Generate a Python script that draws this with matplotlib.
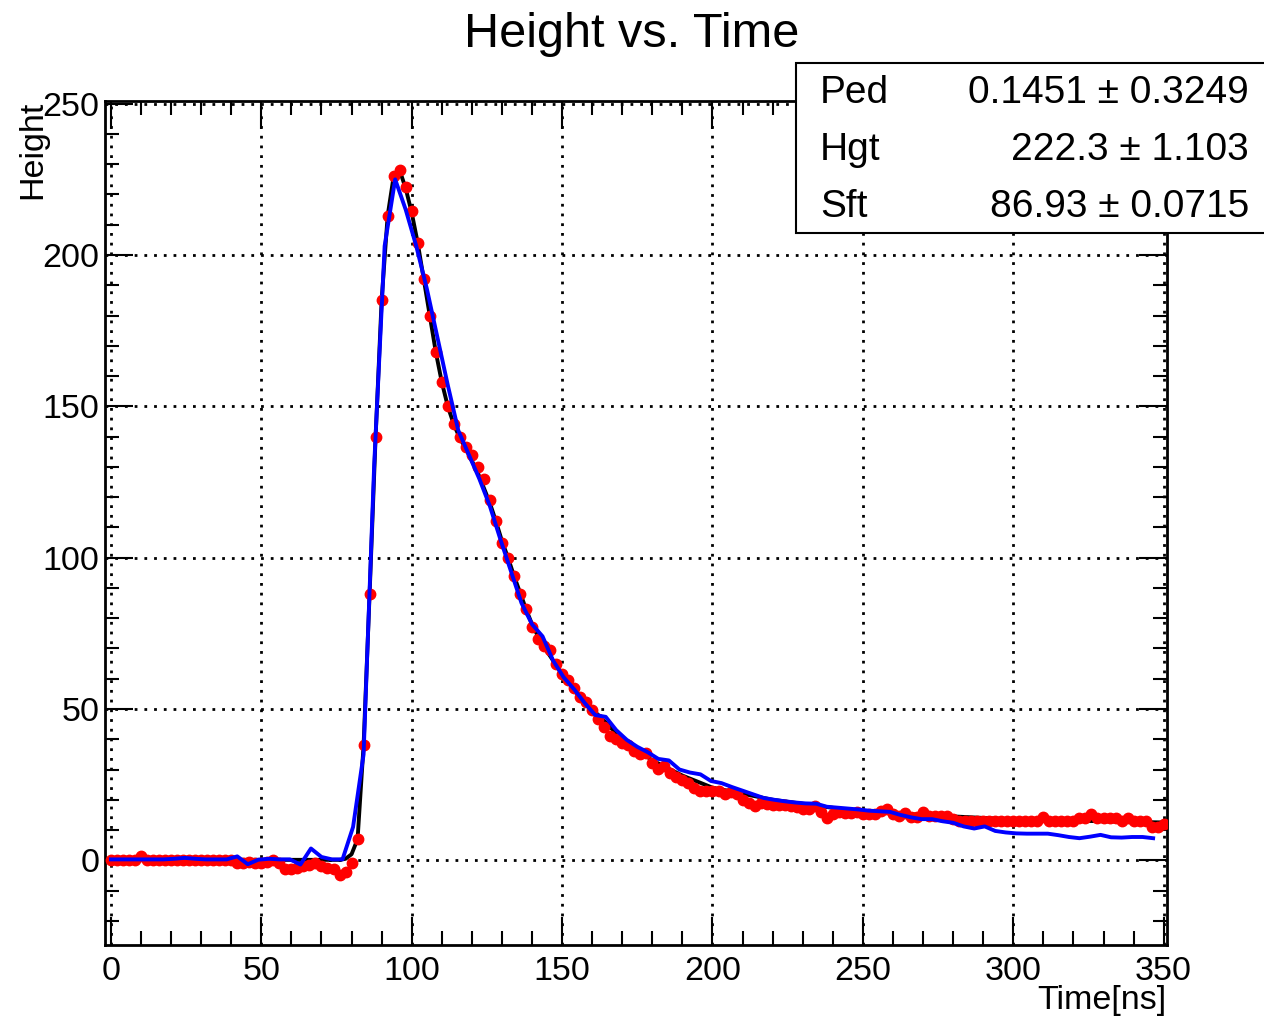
import numpy as np
import matplotlib
matplotlib.use("Agg")
import matplotlib.pyplot as plt
from matplotlib.ticker import MultipleLocator

plt.rcParams['font.family'] = ['Liberation Sans', 'DejaVu Sans']

# measured samples (red), every 2 ns
red_t = np.arange(0, 351, 2)
red_y = [0.2, 0.2, 0.2, 0.2, 0.2, 1.4, 0, 0, 0, 0,
         0, 0, 0, 0, 0, 0, 0, 0, 0, 0,
         0, -1, -0.8, -0.5, -0.8, -1, -0.5, 0, -1, -3,
         -3, -2.5, -2, -1.5, -1, -2, -2.5, -3, -5, -4,
         -1, 7, 38, 88, 140, 185, 213, 226, 228, 222.6,
         214.5, 204, 192, 180, 168, 158, 150, 144, 140, 136.6,
         134, 130, 126, 119, 112, 105, 100, 94, 88, 83,
         77, 73, 70.7, 69.6, 65, 61.7, 59.7, 56.8, 54, 52.3,
         49.8, 46.8, 44.1, 41, 40, 38.8, 38, 36.1, 35, 35.3,
         32, 30.3, 31.1, 28.9, 27.5, 26.4, 25.5, 24, 23, 23,
         23, 23, 21.8, 22.5, 22, 20, 19, 17.8, 19, 18.6,
         18.2, 18.2, 18.2, 18, 17.5, 17.1, 17.1, 17.8, 16, 14.1,
         15.2, 16, 15.5, 15.6, 16, 15.4, 15.4, 15.4, 16.4, 17.1,
         15.4, 14.6, 15.5, 14.4, 14.4, 16, 14.6, 14.8, 14.8, 14.5,
         13.5, 13, 13, 13, 13, 13, 13, 13, 13, 13,
         13, 13, 13, 13, 13, 14.2, 13, 13, 13, 13,
         13, 14, 14, 15.2, 14, 14, 14, 14, 13, 14,
         13, 13, 13, 11, 11, 12]

# reference pulse (blue), every 3.5 ns
blue_t = np.arange(0, 347, 3.5)
blue_y = [0.3, 0.3, 0.3, 0.3, 0.3, 0.3, 0.5, 0.8, 0.5, 0.3,
          0.3, 0.3, 1.3, -1.3, 0.2, 0.5, 0.3, 0.3, -1.4, 3.9,
          1.1, 0.3, 0.3, 11, 35, 130, 203, 225, 215, 203,
          189, 173, 157, 142, 134, 126, 117, 106, 95.5, 85,
          78, 74, 66, 60.5, 56.5, 52, 48, 47.4, 43, 39.8,
          37.5, 35.7, 33.5, 33, 30, 29, 28.4, 26.2, 25.5, 24.2,
          23, 21.8, 20.6, 20, 19.5, 19.1, 18.8, 18.7, 17.7, 17.4,
          17.1, 16.8, 16.4, 16.2, 16, 15, 14.2, 13.6, 13.6, 12.9,
          12.4, 11.2, 10.5, 11.2, 9.7, 9.2, 8.9, 8.8, 8.8, 8.8,
          8.3, 7.7, 7.3, 7.8, 8.4, 7.6, 7.5, 7.7, 7.7, 7.3]

# fit curve (black)
fit_t = [0, 76, 78, 80, 82, 84, 86, 88, 90, 92, 94, 96, 98, 100, 102, 104,
         106, 108, 110, 112, 114, 116, 118, 120, 122, 124, 126, 128, 130,
         132, 134, 136, 138, 140, 142, 144, 146, 148, 150, 155, 160, 165,
         170, 180, 190, 200, 220, 250, 300, 350]
fit_y = [0.15, 0.15, 0.5, 2, 7, 38, 88, 140, 185, 213, 226, 228, 222, 214,
         204, 192, 180, 168, 158, 150, 144, 139.5, 136, 132, 128, 123, 118,
         112, 105.5, 100, 94, 88.5, 83, 78, 74, 70.5, 67.5, 64.5, 61.5, 55,
         50, 45, 40, 33, 28, 24, 20, 16, 13.5, 12.5]

par_names = ["Ped", "Hgt", "Sft"]
par_vals = ["0.1451 \u00b1 0.3249", "222.3 \u00b1 1.103", "86.93 \u00b1 0.0715"]

fig = plt.figure(figsize=(12.64, 10.21), dpi=100)
ax = fig.add_axes([0.083, 0.0744, 0.840, 0.827])

ax.plot(fit_t, fit_y, color='black', lw=2.8, zorder=2)
ax.plot(red_t, red_y, 'o', color='red', ms=7.5, mec='red', zorder=3)
ax.plot(blue_t, blue_y, color='blue', lw=2.8, zorder=4)

ax.set_xlim(-2, 351)
ax.set_ylim(-28, 251)

ax.xaxis.set_major_locator(MultipleLocator(50))
ax.xaxis.set_minor_locator(MultipleLocator(10))
ax.yaxis.set_major_locator(MultipleLocator(50))
ax.yaxis.set_minor_locator(MultipleLocator(10))
ax.tick_params(which='both', direction='in', top=True, right=True,
               width=1.5, labelsize=24.5)
ax.tick_params(which='major', length=20)
ax.tick_params(which='minor', length=10)
ax.tick_params(axis='x', pad=8)
ax.tick_params(axis='y', pad=4)
for s in ax.spines.values():
    s.set_linewidth(2)

ax.grid(True, which='major', color='black', linestyle=(0, (1, 2.5)), lw=2)

ax.set_xlabel("Time[ns]", fontsize=24.5, loc='right')
ax.xaxis.set_label_coords(1.0, -0.047)
ax.set_ylabel("Height", fontsize=24.5, loc='top', labelpad=-4)

fig.suptitle("Height vs. Time", fontsize=35, y=0.988)

# stats box
bx0, by0, bw, bh = 796 / 1264, 1 - 233 / 1021, 470 / 1264, 170 / 1021
fig.patches.append(plt.Rectangle((bx0, by0), bw, bh, transform=fig.transFigure,
                                 facecolor='white', edgecolor='black', lw=1.5,
                                 zorder=10))
for i, (n, v) in enumerate(zip(par_names, par_vals)):
    yy = 1 - (93 + 57 * i) / 1021
    fig.text(820 / 1264, yy, n, fontsize=28, va='center', ha='left', zorder=11)
    fig.text(1249 / 1264, yy, v, fontsize=28, va='center', ha='right', zorder=11)

fig.savefig("out.png", dpi=100)
